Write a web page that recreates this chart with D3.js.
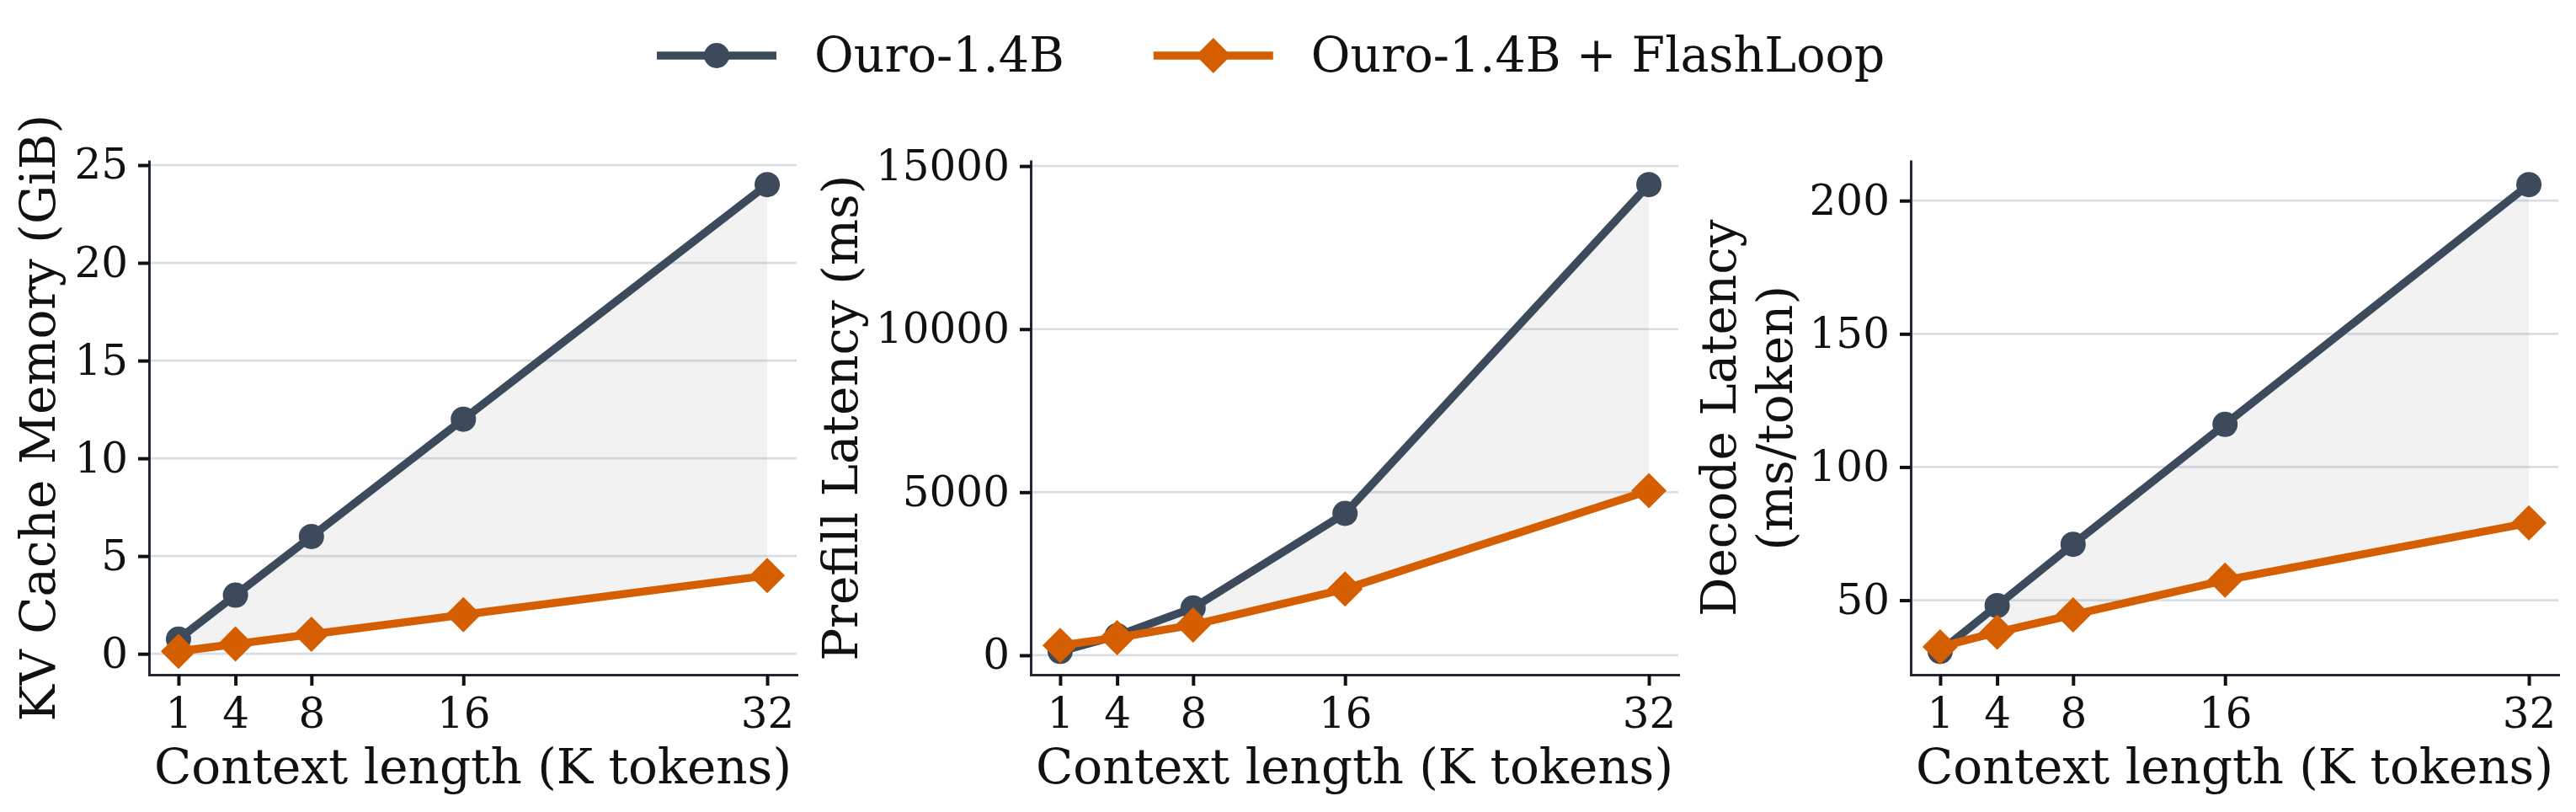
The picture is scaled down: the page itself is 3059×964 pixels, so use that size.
<!DOCTYPE html>
<html>
<head>
<meta charset="utf-8">
<script src="https://cdn.jsdelivr.net/npm/d3@7"></script>
<style>
  html, body { margin: 0; padding: 0; background: #fff; }
  svg { display: block; font-family: 'DejaVu Serif', serif; }
</style>
</head>
<body>
<div id="chart"></div>
<script>
// context lengths (K tokens)
const contextK = [1, 4, 8, 16, 32]

// series values
const kvBase = [0.75, 3, 6, 12, 24]
const kvFlash = [0.125, 0.5, 1, 2, 4]
const prefillBase = [120, 600, 1450, 4350, 14430]
const prefillFlash = [300, 540, 930, 2030, 5050]
const decodeBase = [30.8, 48, 71, 116, 206]
const decodeFlash = [32.5, 38, 44.5, 57.5, 79]

const kvTicks = [0, 5, 10, 15, 20, 25]
const prefillTicks = [0, 5000, 10000, 15000]
const decodeTicks = [50, 100, 150, 200]

const seriesNames = ['Ouro-1.4B', 'Ouro-1.4B + FlashLoop']
const xLabel = 'Context length (K tokens)'
const yLabels = [['KV Cache Memory (GiB)'], ['Prefill Latency (ms)'], ['Decode Latency', '(ms/token)']]

const colors = ['#3c4a5c', '#d55e00']

const width = 3059
const height = 964

const panels = [
    { base: kvBase, flash: kvFlash, ticks: kvTicks, label: yLabels[0], left: 177, labelX: 65 },
    { base: prefillBase, flash: prefillFlash, ticks: prefillTicks, label: yLabels[1], left: 1224, labelX: 1018 },
    { base: decodeBase, flash: decodeFlash, ticks: decodeTicks, label: yLabels[2], left: 2269, labelX: 2061 }
]
const plotW = 769
const plotTop = 191.5
const plotBottom = 801

let svg = d3.select('#chart')
    .append('svg')
    .attr('width', width)
    .attr('height', height)

let diamond = d3.symbol().type(d3.symbolSquare).size(Math.pow(21 * Math.SQRT2, 2))

function drawMarker(g, kind, x, y, color) {
    if (kind === 0) {
        g.append('circle').attr('cx', x).attr('cy', y).attr('r', 15).attr('fill', color)
    } else {
        g.append('path')
            .attr('d', diamond())
            .attr('transform', `translate(${x},${y}) rotate(45)`)
            .attr('fill', color)
    }
}

panels.forEach((p) => {
    let x = d3.scaleLinear()
        .domain([1 - 0.05 * 31, 32 + 0.05 * 31])
        .range([p.left, p.left + plotW])

    let all = p.base.concat(p.flash)
    let lo = d3.min(all)
    let hi = d3.max(all)
    let pad = (hi - lo) * 0.05
    let y = d3.scaleLinear()
        .domain([lo - pad, hi + pad])
        .range([plotBottom, plotTop])

    let g = svg.append('g')

    // horizontal grid
    g.append('g')
        .selectAll('line')
        .data(p.ticks)
        .enter().append('line')
        .attr('x1', p.left)
        .attr('x2', p.left + plotW)
        .attr('y1', (d) => y(d))
        .attr('y2', (d) => y(d))
        .attr('stroke', '#dadee4')
        .attr('stroke-width', 2.7)

    // shaded gap between the two series
    let area = d3.area()
        .x((d, i) => x(contextK[i]))
        .y0((d, i) => y(p.flash[i]))
        .y1((d) => y(d))
    g.append('path')
        .datum(p.base)
        .attr('d', area)
        .attr('fill', '#808080')
        .attr('fill-opacity', 0.1)

    let line = d3.line()
        .x((d, i) => x(contextK[i]))
        .y((d) => y(d))

    ;[p.base, p.flash].forEach((vals, k) => {
        g.append('path')
            .datum(vals)
            .attr('d', line)
            .attr('fill', 'none')
            .attr('stroke', colors[k])
            .attr('stroke-width', 9.5)
            .attr('stroke-linejoin', 'round')
        vals.forEach((v, i) => drawMarker(g, k, x(contextK[i]), y(v), colors[k]))
    })

    // axes
    let xAxis = g.append('g')
        .attr('transform', `translate(0,${plotBottom})`)
        .call(d3.axisBottom(x).tickValues(contextK).tickFormat(d3.format('d'))
            .tickSize(13).tickSizeOuter(0).tickPadding(14))
    let yAxis = g.append('g')
        .attr('transform', `translate(${p.left},0)`)
        .call(d3.axisLeft(y).tickValues(p.ticks).tickFormat(d3.format('d'))
            .tickSize(13).tickSizeOuter(0).tickPadding(12))

    ;[xAxis, yAxis].forEach((a) => {
        a.select('.domain').attr('stroke', '#222831').attr('stroke-width', 3).attr('stroke-linecap', 'square')
        a.selectAll('.tick line').attr('stroke', '#111').attr('stroke-width', 4)
        a.selectAll('.tick text')
            .attr('fill', '#111')
            .style('font-family', "'DejaVu Serif', serif")
            .style('font-size', '50px')
    })

    g.append('text')
        .attr('x', p.left + plotW / 2)
        .attr('y', 930)
        .attr('text-anchor', 'middle')
        .attr('fill', '#111')
        .style('font-size', '58px')
        .text(xLabel)

    let mid = (plotTop + plotBottom) / 2
    let yl = g.append('text')
        .attr('transform', `translate(${p.labelX},${mid}) rotate(-90)`)
        .attr('text-anchor', 'middle')
        .attr('fill', '#111')
        .style('font-size', '58px')
    p.label.forEach((t, i) => {
        yl.append('tspan')
            .attr('x', 0)
            .attr('y', i * 67)
            .text(t)
    })
})

// legend
let legend = svg.append('g').attr('transform', 'translate(780,66)')
let cursor = 0
seriesNames.forEach((name, k) => {
    let item = legend.append('g').attr('transform', `translate(${cursor},0)`)
    item.append('line')
        .attr('x1', 0).attr('x2', 142)
        .attr('stroke', colors[k])
        .attr('stroke-width', 9.5)
    drawMarker(item, k, 71, 0, colors[k])
    let t = item.append('text')
        .attr('x', 187)
        .attr('y', 19)
        .attr('fill', '#111')
        .style('font-size', '57px')
        .text(name)
    cursor += 187 + t.node().getComputedTextLength() + 106
})
</script>
</body>
</html>
